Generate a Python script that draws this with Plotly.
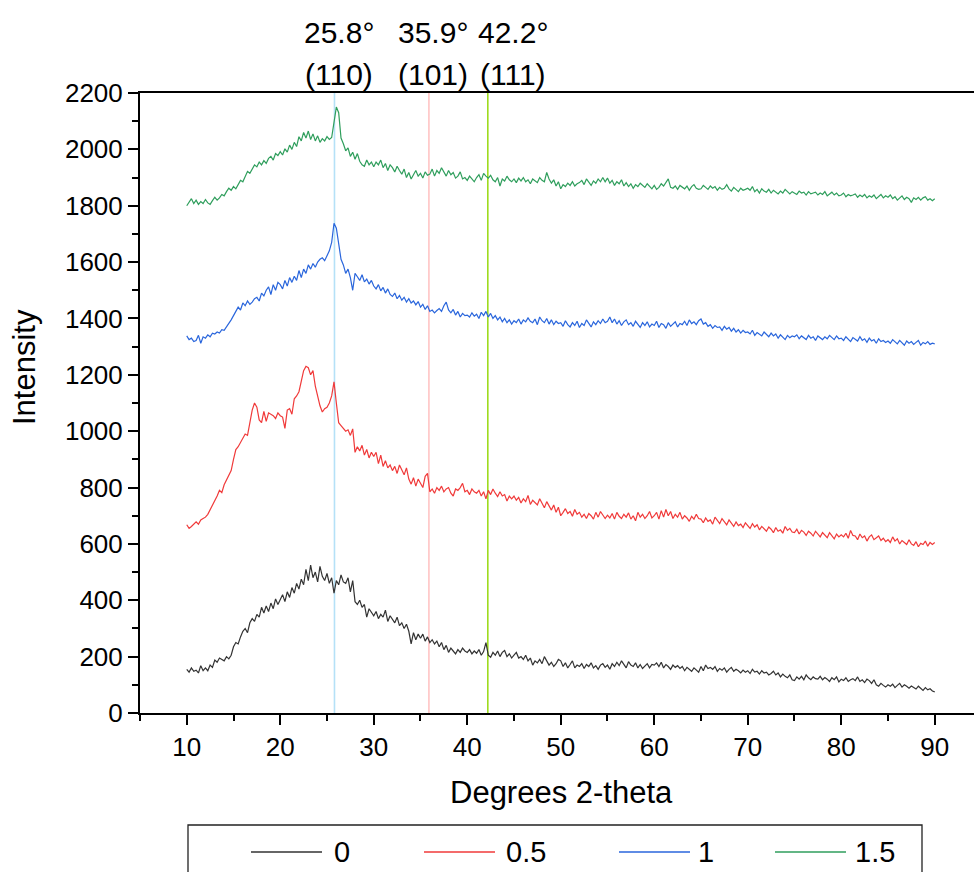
import numpy as np
import plotly.graph_objects as go

# ---------------- data ----------------
X_START = 10.0   # degrees 2-theta of first sample
X_STEP = 0.25    # sampling step (degrees)

series_names = ["0", "0.5", "1", "1.5"]
series_colors = ["#333333", "#f03a3a", "#2a66dc", "#2f9e5c"]

intensity_0 = [
    155, 145, 160, 148, 152, 142, 168, 150, 160, 150, 170, 162, 188, 180, 195, 190, 185, 200, 192, 205,
    235, 250, 245, 270, 290, 300, 285, 320, 335, 325, 350, 340, 375, 355, 380, 360, 390, 370, 405, 385,
    400, 420, 395, 430, 410, 445, 425, 460, 440, 475, 455, 510, 470, 525, 480, 500, 465, 520, 485, 470,
    495, 460, 480, 425, 470, 455, 490, 465, 460, 480, 430, 470, 395, 385, 400, 375, 385, 340, 370, 355,
    345, 360, 335, 350, 340, 365, 325, 345, 330, 320, 340, 310, 320, 300, 315, 290, 245, 285, 260, 280,
    265, 280, 255, 270, 250, 260, 245, 255, 235, 250, 225, 240, 215, 230, 220, 210, 225, 215, 230, 220,
    215, 225, 210, 220, 212, 225, 205, 218, 250, 205, 198, 215, 205, 220, 200, 215, 222, 200, 210, 195,
    205, 215, 195, 200, 190, 205, 185, 195, 170, 185, 178, 190, 175, 200, 185, 170, 180, 165, 175, 190,
    185, 165, 178, 160, 172, 185, 160, 170, 165, 175, 158, 172, 165, 178, 160, 168, 155, 170, 175, 162,
    170, 155, 175, 165, 180, 168, 185, 170, 160, 182, 170, 165, 178, 160, 172, 158, 168, 175, 160, 172,
    170, 178, 165, 180, 160, 172, 165, 155, 170, 162, 168, 158, 165, 150, 162, 155, 148, 160, 152, 145,
    165, 150, 170, 158, 162, 155, 165, 148, 158, 152, 160, 145, 155, 162, 148, 155, 150, 142, 152, 145,
    150, 140, 155, 145, 148, 138, 150, 142, 145, 135, 140, 148, 135, 142, 128, 138, 130, 125, 135, 118,
    115, 128, 120, 130, 118, 135, 125, 118, 128, 122, 120, 130, 118, 126, 120, 112, 125, 118, 128, 110,
    120, 115, 125, 112, 118, 122, 115, 128, 112, 118, 108, 120, 115, 105, 118, 100, 95, 105, 98, 92,
    100, 95, 102, 90, 98, 105, 92, 100, 95, 88, 96, 90, 85, 95, 88, 80, 90, 82, 86, 78,
    75,
]

intensity_0_5 = [
    668, 655, 662, 672, 678, 670, 685, 690, 695, 705, 720, 738, 750, 770, 790, 782, 810, 825, 840, 860,
    900, 935, 945, 960, 975, 990, 985, 1030, 1075, 1100, 1085, 1040, 1030, 1070, 1035, 1065, 1060, 1055, 1045, 1065,
    1055, 1050, 1010, 1075, 1080, 1060, 1115, 1125, 1140, 1175, 1215, 1230, 1225, 1200, 1215, 1160, 1120, 1090, 1068, 1080,
    1085, 1100, 1125, 1175, 1100, 1030, 1020, 1010, 1000, 1005, 985, 1008, 925, 945, 930, 950, 915, 935, 905, 925,
    910, 925, 885, 915, 875, 895, 870, 880, 860, 875, 850, 880, 865, 845, 870, 830, 812, 835, 805, 830,
    815, 800, 840, 850, 785, 795, 780, 800, 790, 805, 785, 795, 800, 780, 770, 795, 790, 800, 815, 785,
    790, 775, 795, 785, 780, 790, 770, 785, 760, 790, 775, 795, 780, 768, 785, 770, 775, 752, 770, 760,
    770, 755, 765, 745, 760, 750, 772, 740, 755, 745, 738, 760, 742, 728, 750, 735, 720, 738, 712, 730,
    700, 712, 725, 708, 715, 698, 722, 705, 712, 695, 705, 690, 708, 700, 688, 712, 695, 715, 700, 690,
    702, 692, 708, 688, 712, 698, 690, 705, 695, 710, 688, 700, 682, 712, 695, 705, 690, 700, 715, 692,
    700, 712, 688, 718, 695, 722, 700, 715, 690, 705, 695, 712, 688, 700, 692, 680, 698, 688, 705, 690,
    688, 675, 692, 680, 685, 670, 695, 682, 672, 690, 678, 668, 685, 672, 662, 678, 665, 670, 658, 675,
    665, 655, 672, 660, 668, 650, 662, 655, 645, 660, 652, 640, 658, 645, 650, 638, 662, 648, 655, 642,
    640, 652, 635, 648, 642, 630, 645, 638, 628, 645, 635, 625, 640, 632, 622, 640, 630, 618, 635, 625,
    632, 625, 638, 620, 648, 630, 628, 615, 635, 622, 628, 610, 625, 632, 615, 620, 628, 612, 620, 608,
    615, 605, 625, 610, 618, 600, 612, 605, 598, 615, 600, 595, 608, 590, 602, 598, 610, 592, 605, 598,
    605,
]

intensity_1 = [
    1338, 1325, 1330, 1318, 1322, 1340, 1312, 1335, 1330, 1342, 1335, 1348, 1345, 1352, 1348, 1360, 1358, 1370, 1380, 1395,
    1410, 1425, 1440, 1430, 1455, 1445, 1462, 1450, 1458, 1470, 1475, 1462, 1490, 1480, 1500, 1512, 1485, 1520, 1500, 1528,
    1520, 1505, 1535, 1515, 1545, 1528, 1550, 1535, 1570, 1545, 1575, 1560, 1590, 1575, 1595, 1582, 1600, 1610, 1615, 1605,
    1625, 1640, 1670, 1738, 1720, 1660, 1610, 1590, 1560, 1575, 1545, 1500, 1560, 1548, 1535, 1555, 1530, 1540, 1522, 1535,
    1515, 1505, 1520, 1498, 1510, 1490, 1505, 1485, 1478, 1490, 1470, 1482, 1465, 1475, 1458, 1470, 1455, 1462, 1448, 1460,
    1440, 1450, 1432, 1445, 1425, 1430, 1420, 1428, 1435, 1425, 1445, 1458, 1430, 1420, 1432, 1412, 1425, 1405, 1418, 1410,
    1412, 1405, 1420, 1408, 1415, 1400, 1422, 1410, 1425, 1405, 1418, 1400, 1410, 1395, 1405, 1388, 1400, 1385, 1395, 1380,
    1392, 1385, 1398, 1380, 1395, 1388, 1402, 1390, 1385, 1398, 1378, 1405, 1392, 1385, 1400, 1380, 1395, 1378, 1390, 1382,
    1385, 1372, 1392, 1378, 1370, 1385, 1375, 1390, 1368, 1382, 1375, 1395, 1380, 1370, 1388, 1378, 1392, 1382, 1398, 1385,
    1390, 1405, 1385, 1398, 1380, 1392, 1375, 1388, 1395, 1378, 1385, 1372, 1390, 1380, 1368, 1385, 1375, 1388, 1370, 1380,
    1375, 1390, 1368, 1382, 1378, 1365, 1385, 1372, 1380, 1388, 1370, 1382, 1378, 1390, 1375, 1395, 1382, 1388, 1378, 1392,
    1398, 1380, 1385, 1372, 1378, 1365, 1375, 1368, 1370, 1358, 1372, 1362, 1368, 1355, 1365, 1352, 1360, 1348, 1358, 1350,
    1352, 1345, 1358, 1340, 1350, 1345, 1338, 1352, 1342, 1335, 1348, 1338, 1345, 1330, 1342, 1335, 1325, 1340, 1332, 1338,
    1335, 1342, 1328, 1338, 1332, 1325, 1340, 1330, 1335, 1322, 1338, 1330, 1325, 1335, 1328, 1340, 1332, 1325, 1338, 1328,
    1330, 1322, 1335, 1325, 1318, 1332, 1325, 1320, 1335, 1322, 1328, 1315, 1330, 1320, 1325, 1312, 1328, 1318, 1322, 1315,
    1320, 1312, 1325, 1318, 1310, 1322, 1315, 1305, 1320, 1312, 1318, 1308, 1315, 1322, 1305, 1315, 1310, 1318, 1308, 1312,
    1310,
]

intensity_1_5 = [
    1800, 1812, 1825, 1808, 1820, 1805, 1815, 1808, 1822, 1810, 1805, 1818, 1830, 1820, 1828, 1840, 1835, 1850, 1862, 1855,
    1868, 1860, 1878, 1890, 1885, 1905, 1922, 1915, 1930, 1945, 1938, 1955, 1945, 1960, 1950, 1968, 1975, 1962, 1985, 1978,
    1992, 1980, 2002, 1990, 2015, 2000, 2025, 2010, 2045, 2030, 2060, 2040, 2065, 2035, 2055, 2030, 2048, 2025, 2038, 2030,
    2045, 2035, 2042, 2090, 2150, 2130, 2040, 2020, 1995, 2005, 1975, 1990, 1965, 1985, 1958, 1945, 1940, 1962, 1945, 1955,
    1938, 1955, 1945, 1962, 1935, 1950, 1925, 1945, 1935, 1920, 1940, 1925, 1912, 1930, 1900, 1918, 1895, 1910, 1925, 1905,
    1915, 1898, 1920, 1908, 1912, 1930, 1905, 1925, 1915, 1935, 1918, 1905, 1925, 1910, 1918, 1898, 1905, 1920, 1895, 1900,
    1890, 1905, 1895, 1885, 1900, 1910, 1890, 1915, 1905, 1898, 1908, 1892, 1885, 1900, 1870, 1895, 1888, 1905, 1892, 1885,
    1895, 1882, 1898, 1888, 1900, 1885, 1892, 1878, 1895, 1888, 1882, 1900, 1890, 1885, 1918, 1895, 1880, 1892, 1870, 1885,
    1860, 1875, 1868, 1880, 1872, 1885, 1870, 1878, 1882, 1890, 1875, 1895, 1882, 1872, 1888, 1880, 1895, 1885, 1900, 1885,
    1898, 1880, 1890, 1872, 1885, 1878, 1892, 1870, 1882, 1868, 1878, 1862, 1875, 1868, 1880, 1872, 1865, 1878, 1868, 1860,
    1872, 1858, 1865, 1878, 1870, 1885, 1895, 1865, 1862, 1870, 1858, 1872, 1865, 1860, 1870, 1855, 1868, 1875, 1862, 1858,
    1860, 1872, 1865, 1858, 1870, 1862, 1868, 1855, 1865, 1858, 1862, 1875, 1860, 1852, 1865, 1858, 1850, 1862, 1855, 1858,
    1862, 1855, 1868, 1850, 1858, 1845, 1860, 1852, 1848, 1858, 1845, 1855, 1850, 1842, 1852, 1845, 1858, 1848, 1842, 1850,
    1845, 1840, 1852, 1845, 1848, 1838, 1850, 1842, 1845, 1848, 1838, 1845, 1840, 1850, 1835, 1842, 1848, 1838, 1845, 1835,
    1838, 1845, 1832, 1840, 1835, 1838, 1842, 1830, 1838, 1832, 1840, 1828, 1835, 1830, 1838, 1825, 1832, 1840, 1828, 1835,
    1830, 1838, 1825, 1832, 1820, 1828, 1835, 1822, 1830, 1825, 1812, 1828, 1822, 1830, 1820, 1828, 1832, 1820, 1825, 1818,
    1825,
]

all_series = [intensity_0, intensity_0_5, intensity_1, intensity_1_5]

peak_positions = [25.8, 35.9, 42.2]
peak_angle_labels = ["25.8°", "35.9°", "42.2°"]
peak_hkl_labels = ["(110)", "(101)", "(111)"]
peak_line_colors = ["#b5e1f7", "#ffc4c4", "#9edb1f"]

x_ticks = [10, 20, 30, 40, 50, 60, 70, 80, 90]
y_ticks = [0, 200, 400, 600, 800, 1000, 1200, 1400, 1600, 1800, 2000, 2200]

# ---------------- layout geometry (pixels) ----------------
W, H = 974, 872
ML, MR, MT, MB = 140, 0, 93, 159
PW = W - ML - MR
PH = H - MT - MB
FONT = "Arial, 'Liberation Sans', sans-serif"


def px_x(p):
    return (p - ML) / PW


def px_y(p):
    return (H - MB - p) / PH


fig = go.Figure()

# reference peak lines (drawn below the curves)
for pos, col in zip(peak_positions, peak_line_colors):
    fig.add_shape(type="line", xref="x", yref="paper", x0=pos, x1=pos, y0=0, y1=1,
                  line=dict(color=col, width=1.6), layer="below")

for name, color, ys in zip(series_names, series_colors, all_series):
    xs = X_START + X_STEP * np.arange(len(ys))
    fig.add_trace(go.Scatter(x=xs, y=ys, mode="lines", name=name,
                             line=dict(color=color, width=1.2), showlegend=False))

# peak labels above the frame
label_xshift = [5, 4, 25]
for pos, a_lab, h_lab, dx in zip(peak_positions, peak_angle_labels, peak_hkl_labels, label_xshift):
    fig.add_annotation(x=pos, xref="x", y=px_y(32), yref="paper", text=a_lab, showarrow=False,
                       xanchor="center", yanchor="middle", xshift=dx, font=dict(size=30))
    fig.add_annotation(x=pos, xref="x", y=px_y(75), yref="paper", text=h_lab, showarrow=False,
                       xanchor="center", yanchor="middle", xshift=dx, font=dict(size=30))

# axis titles
fig.add_annotation(x=px_x(561), y=px_y(793), xref="paper", yref="paper", text="Degrees 2-theta",
                   showarrow=False, xanchor="center", yanchor="middle", font=dict(size=31))
fig.add_annotation(x=px_x(24), y=px_y(367), xref="paper", yref="paper", text="Intensity",
                   showarrow=False, xanchor="center", yanchor="middle", textangle=-90,
                   font=dict(size=31))

# legend box (bottom edge falls outside the picture, as in the reference)
fig.add_shape(type="rect", xref="paper", yref="paper", x0=px_x(188), x1=px_x(922),
              y0=px_y(825), y1=px_y(905), line=dict(color="#222222", width=1.3),
              fillcolor="rgba(0,0,0,0)")
leg_line_px = [(251, 322), (424, 495), (619, 690), (775, 846)]
leg_text_px = [332, 504, 696, 853]
leg_y = px_y(852)
for name, color, (l0, l1), tx in zip(series_names, series_colors, leg_line_px, leg_text_px):
    fig.add_shape(type="line", xref="paper", yref="paper", x0=px_x(l0), x1=px_x(l1),
                  y0=leg_y, y1=leg_y, line=dict(color=color, width=1.6))
    fig.add_annotation(x=px_x(tx), y=leg_y, xref="paper", yref="paper", text=name,
                       showarrow=False, xanchor="left", yanchor="middle", font=dict(size=29))

fig.update_layout(
    width=W, height=H,
    margin=dict(l=ML, r=MR, t=MT, b=MB, autoexpand=False),
    plot_bgcolor="white", paper_bgcolor="white",
    font=dict(family=FONT, color="black", size=26),
    showlegend=False,
)
fig.update_xaxes(
    range=[5, 94.2], tickmode="array", tickvals=x_ticks, ticktext=[str(v) for v in x_ticks],
    ticks="outside", ticklen=10, tickwidth=1.6, tickcolor="black",
    minor=dict(tickmode="linear", tick0=5, dtick=5, ticks="outside", ticklen=6,
               tickwidth=1.6, tickcolor="black"),
    showline=True, linewidth=2, linecolor="black", mirror=True,
    showgrid=False, zeroline=False, tickfont=dict(size=26),
)
fig.update_yaxes(
    range=[0, 2200], tickmode="array", tickvals=y_ticks, ticktext=[str(v) for v in y_ticks],
    ticks="outside", ticklen=10, tickwidth=1.6, tickcolor="black",
    minor=dict(tickmode="linear", tick0=0, dtick=100, ticks="outside", ticklen=6,
               tickwidth=1.6, tickcolor="black"),
    showline=True, linewidth=2, linecolor="black", mirror=False,
    showgrid=False, zeroline=False, tickfont=dict(size=26),
)

fig.write_html("out.html")
